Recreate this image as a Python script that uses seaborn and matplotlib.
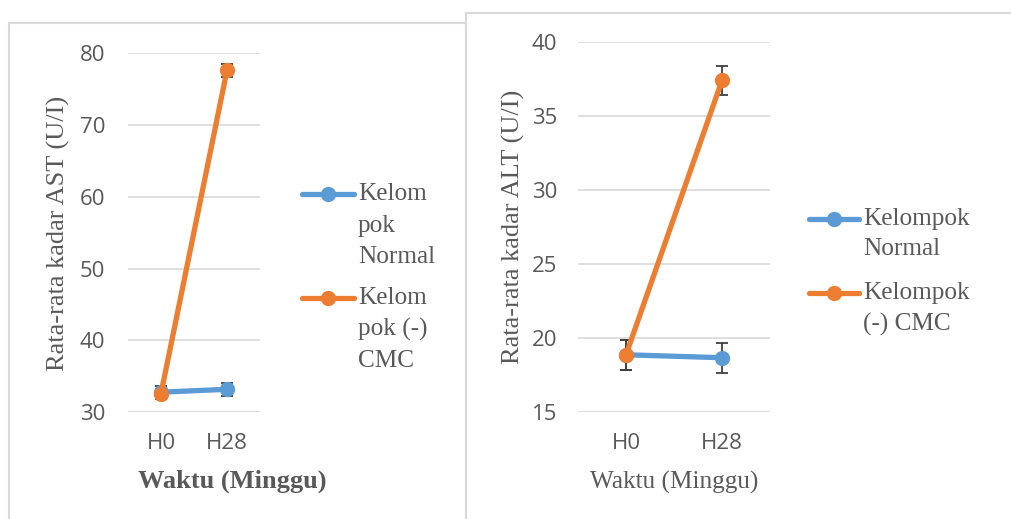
import matplotlib
matplotlib.use("Agg")
import matplotlib.pyplot as plt
from matplotlib.lines import Line2D
from matplotlib.patches import Rectangle
import seaborn as sns
import pandas as pd

# ---------------- data ----------------
times = ["H0", "H28"]
groups = ["Kelompok Normal", "Kelompok (-) CMC"]
ast_normal = [32.8, 33.2]
ast_cmc = [32.6, 77.6]
ast_normal_err = [0.8, 0.9]
ast_cmc_err = [0.7, 0.9]
alt_normal = [18.85, 18.65]
alt_cmc = [18.85, 37.4]
alt_normal_err = [1.0, 1.0]
alt_cmc_err = [1.0, 1.0]

ast_yticks = [30, 40, 50, 60, 70, 80]
alt_yticks = [15, 20, 25, 30, 35, 40]

BLUE = "#5B9BD5"
ORANGE = "#ED7D31"
GRID = "#D9D9D9"
TXT = "#595959"
ERR = "#404040"

sns.set_theme(style="white")
plt.rcParams["font.family"] = ["Open Sans", "DejaVu Sans"]

fig = plt.figure(figsize=(10.12, 5.19), dpi=100)
fig.patch.set_facecolor("white")

# panel borders
fig.add_artist(Rectangle((9 / 1012, -0.1), (466 - 9) / 1012, 1.1 - 23 / 519,
                         transform=fig.transFigure, fill=False,
                         edgecolor="#D9D9D9", lw=1.5))
fig.add_artist(Rectangle((466 / 1012, -0.1), 0.6, 1.1 - 13 / 519,
                         transform=fig.transFigure, fill=False,
                         edgecolor="#D9D9D9", lw=1.5))

ax1 = fig.add_axes([128 / 1012, 1 - 412.3 / 519, 132 / 1012, (412.3 - 53) / 519])
ax2 = fig.add_axes([578 / 1012, 1 - 411.7 / 519, 192 / 1012, (411.7 - 42) / 519])

LW = 3.8
MS = 11


def draw(ax, normal, cmc, nerr, cerr, yticks, ypad):
    df = pd.DataFrame({
        "Waktu": times * 2,
        "Nilai": list(normal) + list(cmc),
        "Kelompok": [groups[0]] * 2 + [groups[1]] * 2,
    })
    # error bars (under markers)
    for vals, errs in ((normal, nerr), (cmc, cerr)):
        ax.errorbar([0, 1], vals, yerr=errs, fmt="none", ecolor=ERR,
                    elinewidth=1.3, capsize=4.3, capthick=1.3, zorder=2)
    sns.lineplot(data=df, x="Waktu", y="Nilai", hue="Kelompok",
                 hue_order=groups, palette=[BLUE, ORANGE], marker="o",
                 markersize=MS, markeredgewidth=0, linewidth=LW,
                 legend=False, ax=ax, zorder=3)
    ax.set_xlim(-0.5, 1.5)
    ax.set_ylim(yticks[0], yticks[-1])
    ax.set_yticks(yticks)
    ax.yaxis.grid(True, color=GRID, lw=1.2)
    ax.set_axisbelow(True)
    for s in ax.spines.values():
        s.set_visible(False)
    ax.tick_params(axis="both", length=0, colors=TXT, labelsize=16)
    ax.tick_params(axis="y", pad=ypad)
    ax.tick_params(axis="x", pad=15)
    ax.set_xlabel("")
    ax.set_ylabel("")


draw(ax1, ast_normal, ast_cmc, ast_normal_err, ast_cmc_err, ast_yticks, 16.5)
draw(ax2, alt_normal, alt_cmc, alt_normal_err, alt_cmc_err, alt_yticks, 15)

serif = ["Liberation Serif", "DejaVu Serif"]

# axis titles
fig.text(58 / 1012, 1 - 233 / 519, "Rata-rata kadar AST (U/I)", rotation=90,
         ha="center", va="center", fontsize=19, color=TXT, family=serif)
fig.text(232 / 1012, 1 - 481 / 519, "Waktu (Minggu)", ha="center", va="center",
         fontsize=19, color=TXT, family=serif, fontweight="bold")
fig.text(513 / 1012, 1 - 227 / 519, "Rata-rata kadar ALT (U/I)", rotation=90,
         ha="center", va="center", fontsize=19, color=TXT, family=serif)
fig.text(674 / 1012, 1 - 482 / 519, "Waktu (Minggu)", ha="center", va="center",
         fontsize=18.2, color=TXT, family=serif)


def legend_entry(x0, x1, y, color, lines, dy):
    yf = 1 - y / 519
    fig.add_artist(Line2D([x0 / 1012, x1 / 1012], [yf, yf], color=color,
                          lw=LW, transform=fig.transFigure,
                          solid_capstyle="round"))
    fig.add_artist(Line2D([(x0 + x1) / 2 / 1012], [yf], color=color,
                          marker="o", markersize=MS, markeredgewidth=0,
                          transform=fig.transFigure))
    for i, t in enumerate(lines):
        fig.text((x1 + 4) / 1012, 1 - (y + i * dy) / 519, t, ha="left",
                 va="center", fontsize=18.2, color=TXT, family=serif)


legend_entry(302, 354, 194, BLUE, ["Kelom", "pok", "Normal"], 31.5)
legend_entry(302, 354, 298, ORANGE, ["Kelom", "pok (-)", "CMC"], 31.5)
legend_entry(809, 859, 219, BLUE, ["Kelompok", "Normal"], 30)
legend_entry(809, 859, 293, ORANGE, ["Kelompok", "(-) CMC"], 31)

fig.savefig("out.png", dpi=100, facecolor="white")
